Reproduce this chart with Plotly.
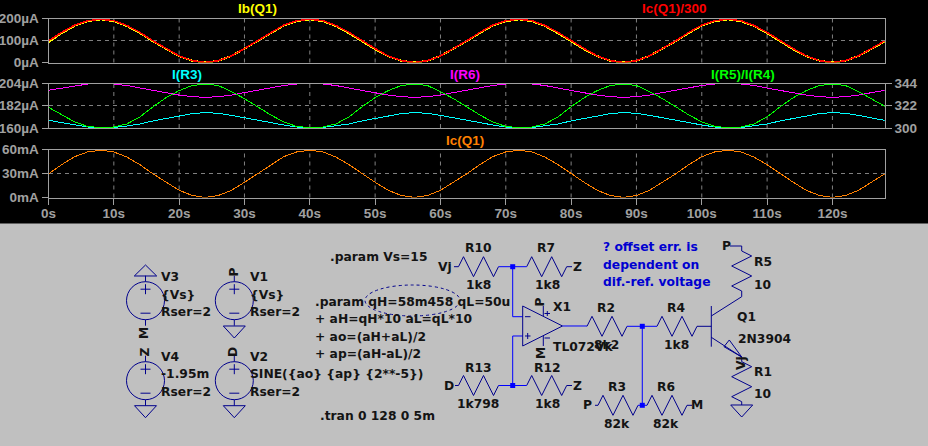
import plotly.graph_objects as go

PAGE_W = 928
PAGE_H = 446

# time base of the waveform pane, seconds
t = list(range(0, 130, 2))

ib_q1 = [93, 133, 167, 188, 196, 188, 166, 134, 96, 61, 29, 8, 0, 8, 30, 63,
         97, 134, 168, 188, 196, 188, 166, 133, 95, 60, 29, 8, 0, 8, 30, 62,
         97, 134, 168, 188, 196, 188, 166, 133, 95, 60, 29, 8, 0, 8, 30, 63,
         97, 134, 168, 188, 196, 188, 166, 133, 95, 60, 29, 8, 0, 8, 30, 63, 95]
ic_q1_ma = [29.5, 41, 51, 57, 59, 57, 50.5, 41, 29.5, 19, 9, 2.5, 0.1, 2.5, 9, 19,
            29.5, 41, 51, 57, 59, 57, 50.5, 41, 29.5, 19, 9, 2.5, 0.1, 2.5, 9, 19,
            29.5, 41, 51, 57, 59, 57, 50.5, 41, 29.5, 19, 9, 2.5, 0.1, 2.5, 9, 19,
            29.5, 41, 51, 57, 59, 57, 50.5, 41, 29.5, 19, 9, 2.5, 0.1, 2.5, 9, 19, 29.5]
ic_over_300 = [v * 1000 / 300 for v in ic_q1_ma]

i_r3 = [167.6, 165.5, 163, 161, 160.2, 160.5, 162, 164, 167, 169.5, 172, 174.2, 175.3, 174.5, 172.5, 170,
        167.5, 165.5, 163, 161, 160.2, 160.5, 162, 164, 167, 169.5, 172, 174.2, 175.3, 174.5, 172.5, 170,
        167.5, 165.5, 163, 161, 160.2, 160.5, 162, 164, 167, 169.5, 172, 174.2, 175.3, 174.5, 172.5, 170,
        167.5, 165.5, 163, 161, 160.2, 160.5, 162, 164, 167, 169.5, 172, 174.2, 175.3, 174.5, 172.5, 170, 167.5]
i_r6 = [197.3, 199.5, 202, 203.5, 204, 203.5, 202, 199.5, 197, 194.5, 192.5, 191, 190.3, 191, 192.5, 195,
        197.3, 199.5, 202, 203.5, 204, 203.5, 202, 199.5, 197, 194.5, 192.5, 191, 190.3, 191, 192.5, 195,
        197.3, 199.5, 202, 203.5, 204, 203.5, 202, 199.5, 197, 194.5, 192.5, 191, 190.3, 191, 192.5, 195,
        197.3, 199.5, 202, 203.5, 204, 203.5, 202, 199.5, 197, 194.5, 192.5, 191, 190.3, 191, 192.5, 195, 197.3]
r5_over_r4 = [320.5, 313, 306, 301.5, 300.4, 301, 304, 311, 321, 330, 337, 342, 343.4, 342, 336, 329,
              321, 313, 306, 301.5, 300.4, 301, 304, 311, 321, 330, 337, 342, 343.4, 342, 336, 329,
              321, 313, 306, 301.5, 300.4, 301, 304, 311, 321, 330, 337, 342, 343.4, 342, 336, 329,
              321, 313, 306, 301.5, 300.4, 301, 304, 311, 321, 330, 337, 342, 343.4, 342, 336, 329, 321.5]

x_ticks = [0, 10, 20, 30, 40, 50, 60, 70, 80, 90, 100, 110, 120]
x_labels = ["0s", "10s", "20s", "30s", "40s", "50s", "60s", "70s", "80s", "90s", "100s", "110s", "120s"]
y1_ticks, y1_labels = [0, 100, 200], ["0µA", "100µA", "200µA"]
y2_ticks, y2_labels = [160, 182, 204], ["160µA", "182µA", "204µA"]
y2r_ticks = [300, 322, 344]
y3_ticks, y3_labels = [0, 30, 60], ["0mA", "30mA", "60mA"]

GREY = "#a0a0a0"
GRID = "#808080"
DASH = "4px,4px"
NAVY = "#00008c"
BLUE = "#0000ff"
INK = "#141414"
FONT = "Liberation Sans"
SCH_FONT = "DejaVu Sans"

fig = go.Figure()
fig.add_trace(go.Scatter(x=t, y=ib_q1, xaxis="x", yaxis="y", mode="lines",
                         line=dict(color="#ffff00", width=2)))
fig.add_trace(go.Scatter(x=t, y=ic_over_300, xaxis="x", yaxis="y", mode="lines",
                         line=dict(color="#ff0000", width=1.5)))
fig.add_trace(go.Scatter(x=t, y=i_r3, xaxis="x2", yaxis="y2", mode="lines",
                         line=dict(color="#00ffff", width=1)))
fig.add_trace(go.Scatter(x=t, y=i_r6, xaxis="x2", yaxis="y2", mode="lines",
                         line=dict(color="#ff00ff", width=1)))
fig.add_trace(go.Scatter(x=t, y=r5_over_r4, xaxis="x2", yaxis="y4", mode="lines",
                         line=dict(color="#00ff00", width=1)))
fig.add_trace(go.Scatter(x=t, y=ic_q1_ma, xaxis="x3", yaxis="y3", mode="lines",
                         line=dict(color="#ff8000", width=1)))


def ydom(top, bottom):
    return [1 - bottom / PAGE_H, 1 - top / PAGE_H]


x_dom = [48.5 / PAGE_W, 884.7 / PAGE_W]
x_common = dict(domain=x_dom, range=[0, 128], tickvals=x_ticks, ticktext=x_labels, showgrid=False,
                zeroline=False, showline=True, linecolor=GREY, linewidth=1, mirror=True)
y_common = dict(showgrid=True, gridcolor=GRID, griddash=DASH, gridwidth=1, zeroline=False,
                showline=True, linecolor=GREY, linewidth=1, mirror=True, ticks="outside", ticklen=6,
                tickcolor=GREY, tickfont=dict(family=FONT, size=13.5, color=GREY, weight=700))

fig.update_layout(
    width=PAGE_W, height=PAGE_H, margin=dict(l=0, r=0, t=0, b=0, autoexpand=False),
    paper_bgcolor="#000000", plot_bgcolor="rgba(0,0,0,0)", showlegend=False,
    xaxis=dict(anchor="y", showticklabels=False, **x_common),
    xaxis2=dict(anchor="y2", showticklabels=False, **x_common),
    xaxis3=dict(anchor="y3", ticks="outside", ticklen=6, tickcolor=GREY, ticklabelstandoff=-3,
                tickfont=dict(family=FONT, size=13.5, color=GREY, weight=700), **x_common),
    yaxis=dict(domain=ydom(18.5, 62.5), range=[0, 200], tickvals=y1_ticks, ticktext=y1_labels,
               anchor="x", **y_common),
    yaxis2=dict(domain=ydom(83.5, 128), range=[160, 204], tickvals=y2_ticks, ticktext=y2_labels,
                anchor="x2", **y_common),
    yaxis3=dict(domain=ydom(149.5, 197.5), range=[0, 60], tickvals=y3_ticks, ticktext=y3_labels,
                anchor="x3", **y_common),
    yaxis4=dict(domain=ydom(83.5, 128), range=[300, 344], tickvals=y2r_ticks, overlaying="y2",
                side="right", anchor="x2", showgrid=False, zeroline=False, showline=False,
                ticks="outside", ticklen=6, tickcolor=GREY,
                tickfont=dict(family=FONT, size=13.5, color=GREY, weight=700)),
)

shapes = []
notes = []

# vertical grid of each pane
for xref, yref in (("x", "y domain"), ("x2", "y2 domain"), ("x3", "y3 domain")):
    for tick in x_ticks[1:]:
        shapes.append(dict(type="line", xref=xref, yref=yref, x0=tick, x1=tick, y0=0, y1=1, layer="below",
                           line=dict(color=GRID, width=1, dash=DASH)))


def px(x):
    return x / PAGE_W


def py(y):
    return 1 - y / PAGE_H


def path(points, color=NAVY, width=1, close=False, fill=None):
    d = "M" + " L".join(f"{px(x):.5f},{py(y):.5f}" for x, y in points) + (" Z" if close else "")
    shapes.append(dict(type="path", xref="paper", yref="paper", path=d, layer="above",
                       line=dict(color=color, width=width),
                       fillcolor=fill if fill else "rgba(0,0,0,0)"))


def box(kind, x0, y0, x1, y1, **style):
    shapes.append(dict(type=kind, xref="paper", yref="paper", x0=px(x0), x1=px(x1), y0=py(y0), y1=py(y1),
                       layer="above", **style))


def label(x, y, text, anchor="left", color=INK, angle=0, size=12.3, family=SCH_FONT):
    notes.append(dict(xref="paper", yref="paper", x=px(x), y=py(y), text=text, showarrow=False, xanchor=anchor,
                      yanchor="middle", textangle=angle, borderpad=0,
                      font=dict(family=family, size=size, color=color, weight=700)))


def res_h(x, y):
    steps = [(0, 0), (5, -10), (15, 10), (25, -10), (35, 10), (40, 0)]
    path([(x + a, y + b) for a, b in steps])


def res_v(x, y):
    steps = [(0, 0), (10, 5), (-10, 15), (10, 25), (-10, 35), (0, 40)]
    path([(x + a, y + b) for a, b in steps])


def ground(x, y):
    path([(x - 11, y), (x + 11, y), (x, y + 12)], close=True)


def junction(x, y):
    box("rect", x - 2.5, y - 2.5, x + 2.5, y + 2.5, line=dict(width=0), fillcolor=BLUE)


def source(x, y):
    box("circle", x - 19, y - 19, x + 19, y + 19, line=dict(color=NAVY, width=1))
    path([(x, y - 25), (x, y - 19)])
    path([(x, y + 19), (x, y + 25)])
    path([(x - 5, y - 11.5), (x + 5, y - 11.5)])
    path([(x, y - 16.5), (x, y - 6.5)])
    path([(x - 5, y + 12.5), (x + 5, y + 12.5)])


# black pane stops here, the schematic sits on grey
box("rect", 0, 223.5, PAGE_W, PAGE_H, line=dict(width=0), fillcolor="#c0c0c0")

# trace names above the panes
label(257, 8, "Ib(Q1)", "center", "#ffff00", size=13.5, family=FONT)
label(674, 8, "Ic(Q1)/300", "center", "#ff0000", size=13.5, family=FONT)
label(187, 74, "I(R3)", "center", "#00ffff", size=13.5, family=FONT)
label(465, 74, "I(R6)", "center", "#ff00ff", size=13.5, family=FONT)
label(743, 74, "I(R5)/I(R4)", "center", "#00ff00", size=13.5, family=FONT)
label(465, 140, "Ic(Q1)", "center", "#ff8000", size=13.5, family=FONT)

# supplies
source(145.5, 300.7)
path([(134.3, 276), (156.7, 276), (145.5, 265)], close=True)
label(144, 333, "M", "center", angle=-90)
label(160, 277, "V3")
label(160, 295, "{Vs}")
label(160, 312, "Rser=2")

source(234.3, 300.7)
ground(234.3, 326)
label(233, 272.5, "P", "center", angle=-90)
label(249, 277, "V1")
label(249, 295, "{Vs}")
label(249, 312, "Rser=2")

source(145.5, 380.7)
ground(145.5, 405.7)
label(144, 352.5, "Z", "center", angle=-90)
label(160, 357.3, "V4")
label(160, 374.3, "-1.95m")
label(160, 391.7, "Rser=2")

source(234.3, 380.7)
ground(234.3, 405.7)
label(233, 352, "D", "center", angle=-90)
label(249, 357.3, "V2")
label(249, 374.3, "SINE({ao} {ap} {2**-5})")
label(249, 391.7, "Rser=2")

# directives
label(329, 257.3, ".param Vs=15")
label(314, 302.3, ".param qH=58m458 qL=50u")
label(314, 319.3, "+ aH=qH*10 aL=qL*10")
label(314, 337.3, "+ ao=(aH+aL)/2")
label(314, 354.3, "+ ap=(aH-aL)/2")
label(319, 416, ".tran 0 128 0 5m")
box("circle", 365, 285, 460, 316, line=dict(color=NAVY, width=1, dash="dot"))

# difference amp input network
res_h(458.5, 266.7)
path([(454, 266.7), (458.5, 266.7)])
res_h(526.7, 266.7)
path([(566.7, 266.7), (572, 266.7)])
res_h(458.5, 385.5)
path([(455, 385.5), (458.5, 385.5)])
res_h(526.7, 385.5)
path([(566.7, 385.5), (572, 385.5)])
path([(498.5, 266.7), (526.7, 266.7)], BLUE)
path([(498.5, 385.5), (526.7, 385.5)], BLUE)
path([(512.7, 266.7), (512.7, 316.7), (522.7, 316.7)], BLUE)
path([(512.7, 385.5), (512.7, 336), (522.7, 336)], BLUE)
junction(512.7, 266.7)
junction(512.7, 385.5)
label(445, 267, "Vj", "center")
label(449, 386, "D", "center")
label(577, 267, "Z", "center")
label(577, 386, "Z", "center")
label(478, 248, "R10", "center")
label(478, 285, "1k8", "center")
label(546, 248, "R7", "center")
label(547, 285, "1k8", "center")
label(478, 368, "R13", "center")
label(478, 404, "1k798", "center")
label(547, 368, "R12", "center")
label(547, 404, "1k8", "center")

# op amp
path([(522.7, 306), (522.7, 346), (562.5, 326)], close=True)
path([(543.3, 306), (543.3, 316)])
path([(543.3, 336), (543.3, 346)])
path([(525, 316.7), (530.5, 316.7)])
path([(525, 336), (530.5, 336)])
path([(527.7, 333), (527.7, 339)])
path([(544.5, 313.5), (550, 313.5)])
path([(547.3, 311), (547.3, 316)])
path([(544.5, 338), (550, 338)])
label(539.5, 302, "P", "center", angle=-90)
label(541, 353, "M", "center", angle=-90)
label(552, 307, "X1")
label(552, 347, "TL072Vk")

# output to base
path([(562.5, 326), (587, 326)], BLUE)
res_h(587, 326.3)
label(606, 308, "R2", "center")
label(606, 345, "8k2", "center")
path([(627, 326.3), (657, 326.3)], BLUE)
junction(642.3, 326.3)
res_h(657, 326.3)
path([(697, 326.3), (711.3, 326.3)])
label(676, 308, "R4", "center")
label(676, 345, "1k8", "center")
path([(642.3, 326.3), (642.3, 405.3)], BLUE)
junction(642.3, 405.3)

# bias divider
res_h(598, 405.3)
path([(595, 405.3), (598, 405.3)])
path([(638, 405.3), (647, 405.3)], BLUE)
res_h(647, 405.3)
path([(687, 405.3), (692, 405.3)])
label(587, 405, "P", "center")
label(697, 405, "M", "center")
label(616.7, 386.7, "R3", "center")
label(616.7, 424, "82k", "center")
label(665.7, 386.7, "R6", "center")
label(666, 424, "82k", "center")

# output transistor
path([(711.3, 306), (711.3, 346.7)])
path([(711.3, 316), (741.7, 296.7), (741.7, 291)])
path([(711.3, 337.3), (741.7, 357)])
path([(724, 346.7), (729.3, 340), (741.7, 357)], close=True)
path([(730, 246), (741.7, 246), (741.7, 251)])
res_v(741.7, 251)
res_v(741.7, 361.7)
path([(741.7, 357), (741.7, 361.7)])
path([(741.7, 401.7), (741.7, 405)])
ground(741.7, 405)
label(726, 246, "P", "center")
label(753, 262, "R5")
label(753, 285, "10")
label(736, 317, "Q1")
label(737, 339, "2N3904")
label(741, 363, "Vj", "center", angle=-90)
label(753, 372, "R1")
label(753, 394, "10")

# comment on the sheet
label(602, 246.7, "? offset err. is", color="#0000d0")
label(602, 265, "dependent on", color="#0000d0")
label(602, 282, "dif.-ref. voltage", color="#0000d0")

fig.update_layout(shapes=shapes, annotations=notes)

page_fix = ("document.documentElement.style.margin='0';document.body.style.margin='0';"
            "document.body.style.background='#000';document.body.style.overflow='hidden';"
            "var g=document.querySelector('.plotly-graph-div');"
            "g.style.position='fixed';g.style.left='0';g.style.top='0';g.style.margin='0';"
            "var s=document.createElement('style');"
            "s.textContent='.scatterlayer path{shape-rendering:crispEdges}';"
            "document.head.appendChild(s);")
fig.write_html("out.html", config=dict(displayModeBar=False), post_script=page_fix)
